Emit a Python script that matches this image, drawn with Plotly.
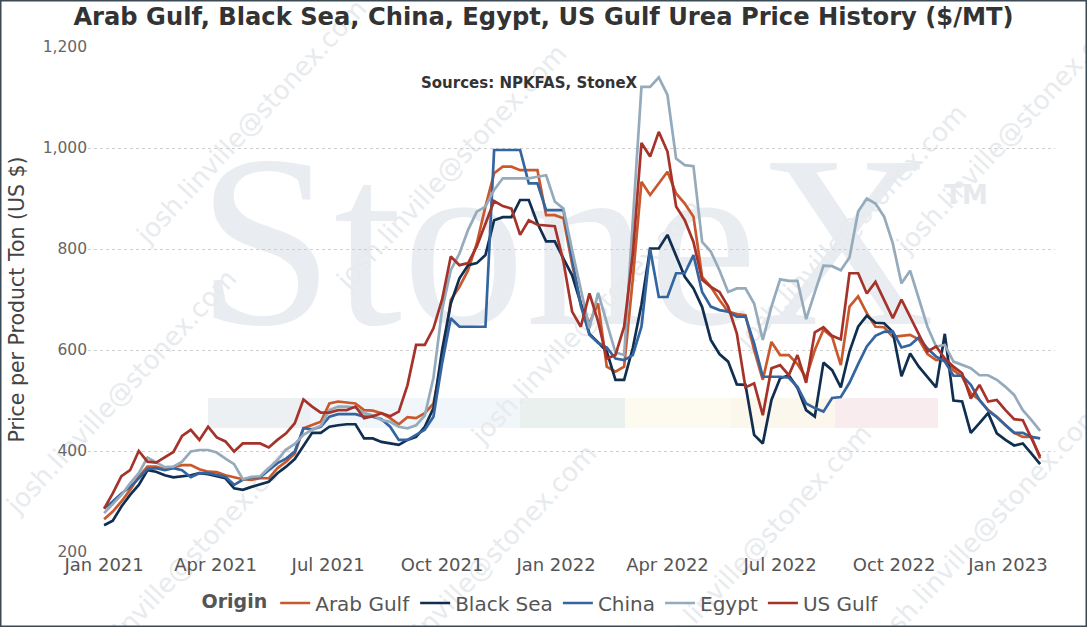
import pandas as pd
import plotly.graph_objects as go

# weekly prices, $/MT, first week of Jan 2021 -> end of Jan 2023
weeks = pd.date_range("2021-01-01", periods=109, freq="7D")

arab_gulf = [265, 280, 300, 323, 349, 369, 369, 364, 368, 372, 372, 364, 359, 358, 352, 348, 344, 343, 346, 346,
             366, 379, 395, 445, 451, 458, 494, 498, 496, 494, 481, 480, 475, 465, 453, 467, 465, 475, 494, 580,
             699, 725, 758, 811, 884, 950, 963, 963, 956, 956, 956, 867, 867, 861, 770, 692, 653, 692, 567, 557,
             567, 740, 933, 907, 930, 953, 910, 890, 864, 745, 725, 699, 676, 671, 669, 600, 541, 616, 590, 590,
             572, 545, 600, 640, 626, 570, 686, 706, 673, 646, 645, 626, 628, 630, 621, 592, 580, 582, 560, 547,
             514, 501, 481, 468, 451, 436, 428, 428, 385]
black_sea = [253, 262, 290, 313, 333, 362, 359, 352, 348, 350, 352, 356, 354, 350, 346, 326, 323, 329, 334, 339,
             356, 369, 384, 409, 436, 436, 448, 451, 453, 453, 425, 425, 418, 415, 412, 422, 428, 448, 485, 600,
             692, 742, 768, 772, 788, 857, 863, 863, 897, 897, 851, 815, 815, 781, 748, 692, 632, 615, 597, 541,
             541, 604, 690, 801, 801, 828, 785, 745, 722, 685, 620, 592, 577, 532, 531, 432, 415, 501, 544, 550,
             525, 481, 468, 575, 560, 526, 597, 646, 668, 654, 653, 636, 548, 593, 567, 547, 526, 632, 500, 498,
             436, 455, 475, 435, 422, 411, 415, 395, 374]
china = [286, 300, 316, 329, 346, 364, 366, 362, 366, 362, 348, 356, 356, 352, 349, 333, 343, 348, 348, 362,
         376, 385, 399, 445, 443, 448, 468, 473, 473, 473, 468, 468, 463, 448, 422, 422, 432, 442, 468, 574,
         663, 646, 646, 646, 646, 996, 996, 996, 996, 930, 930, 877, 877, 877, 780, 688, 630, 614, 605, 583,
         580, 590, 646, 800, 705, 705, 752, 752, 788, 715, 686, 679, 676, 666, 666, 613, 547, 547, 547, 545,
         527, 494, 485, 478, 505, 507, 535, 572, 607, 628, 636, 637, 605, 610, 625, 603, 587, 577, 549, 549,
         531, 501, 480, 467, 451, 436, 436, 428, 425]
egypt = [277, 296, 313, 336, 356, 387, 377, 368, 369, 379, 399, 402, 402, 397, 385, 374, 344, 349, 350, 366,
         382, 403, 414, 432, 442, 450, 481, 488, 488, 486, 475, 471, 461, 458, 448, 445, 451, 470, 545, 680,
         758, 791, 838, 874, 884, 917, 940, 940, 940, 940, 943, 946, 894, 880, 798, 719, 643, 713, 653, 595,
         590, 850, 1121, 1121, 1140, 1105, 979, 966, 964, 814, 795, 758, 715, 722, 722, 692, 620, 686, 740, 737,
         737, 661, 716, 767, 766, 758, 783, 874, 900, 890, 864, 811, 732, 757, 702, 646, 607, 610, 577, 570,
         564, 550, 550, 541, 527, 511, 481, 461, 440]
us_gulf = [286, 316, 350, 362, 400, 379, 377, 387, 398, 430, 442, 422, 448, 427, 419, 399, 415, 415, 415, 407,
           422, 435, 455, 502, 488, 476, 476, 481, 481, 488, 465, 469, 475, 469, 478, 530, 610, 610, 643, 700,
           785, 768, 772, 805, 850, 895, 885, 880, 828, 857, 848, 846, 845, 775, 676, 646, 712, 656, 583, 590,
           646, 790, 1010, 983, 1032, 993, 884, 857, 814, 739, 725, 715, 686, 633, 526, 534, 471, 564, 570, 550,
           590, 535, 635, 645, 628, 621, 752, 752, 712, 735, 699, 663, 700, 666, 633, 597, 607, 583, 567, 554,
           504, 531, 498, 501, 481, 463, 461, 425, 389]

origins = ["Arab Gulf", "Black Sea", "China", "Egypt", "US Gulf"]
series = [arab_gulf, black_sea, china, egypt, us_gulf]
colors = ["#c9582c", "#102f50", "#3465a0", "#95abbc", "#a5332a"]

y_ticks = [200, 400, 600, 800, 1000, 1200]
x_ticks = pd.date_range("2021-01-01", "2023-01-01", freq="QS")

FONT = "DejaVu Sans"
W, H = 1087, 627

fig = go.Figure()
for name, vals, col in zip(origins, series, colors):
    fig.add_trace(go.Scatter(x=weeks, y=vals, name=name, mode="lines",
                             line=dict(color=col, width=2.7)))

# plot area in pixels, used to place the watermark pieces
L, R, T, B = 88, 1055, 47, 552
def px(x): return (x - L) / (R - L)
def py(y): return (B - y) / (B - T)

def text_box(cx, cy, text, size, color, family=FONT, angle=0):
    return dict(type="rect", xref="paper", yref="paper", layer="below",
                x0=px(cx - 10), x1=px(cx + 10), y0=py(cy + 10), y1=py(cy - 10),
                line=dict(width=0), fillcolor="rgba(0,0,0,0)",
                label=dict(text=text, textangle=angle,
                           font=dict(family=family, size=size, color=color)))

shapes = []
band = [(208, 310, "#edf0f3"), (310, 520, "#f1f6fa"), (520, 625, "#eaf0ee"),
        (625, 730, "#fdfbef"), (730, 835, "#fbf7ec"), (835, 938, "#f9ecef")]
for x0, x1, c in band:
    shapes.append(dict(type="rect", xref="paper", yref="paper", layer="below",
                       x0=px(x0), x1=px(x1), y0=py(428), y1=py(398),
                       fillcolor=c, line=dict(width=0)))
shapes.append(text_box(566, 214, "StoneX", 246, "#e9edf1", family="Liberation Serif"))
shapes.append(text_box(966, 193, "<b>TM</b>", 26, "#e6eaee"))
for cx, cy in [(120, 390), (450, 165), (585, 320), (755, 545), (850, 225),
               (1010, 130), (985, 525), (180, 565), (480, 565), (250, 120)]:
    shapes.append(text_box(cx, cy, "josh.linville@stonex.com", 26, "#e8ebee", angle=-47))
# outer frame
shapes.append(dict(type="rect", xref="paper", yref="paper", layer="above",
                   x0=px(0.75), x1=px(W - 0.75), y0=py(H - 0.75), y1=py(0.75),
                   line=dict(color="#3b4a55", width=1.5)))

fig.update_layout(
    width=W, height=H,
    margin=dict(l=L, r=W - R, t=T, b=H - B, autoexpand=False),
    paper_bgcolor="white", plot_bgcolor="white",
    font=dict(family=FONT, color="#555555"),
    title=dict(text="<b>Arab Gulf, Black Sea, China, Egypt, US Gulf Urea Price History ($/MT)</b>",
               x=0.5, xanchor="center", y=1 - 17 / H, yanchor="middle",
               font=dict(family=FONT, size=24.2, color="#333333")),
    xaxis=dict(range=["2020-12-19", "2023-02-08"], tickvals=x_ticks, tickformat="%b %Y",
               showgrid=False, zeroline=False, showline=False, ticks="", automargin=False,
               tickfont=dict(size=18, color="#555555")),
    yaxis=dict(range=[200, 1200], tickvals=y_ticks, tickformat=",", showline=False, automargin=False,
               zeroline=False, showgrid=True, gridcolor="#cfcfcf", griddash="dot", gridwidth=1,
               tickfont=dict(size=15.5, color="#666666"), ticks="",
               title=dict(text="Price per Product Ton (US $)", font=dict(size=20.5, color="#444444"),
                          standoff=12)),
    legend=dict(orientation="h", x=0.469, xanchor="center", yref="container",
                y=1 - 603 / H, yanchor="middle",
                title=dict(text="<b>Origin</b>", font=dict(size=19, color="#555555")),
                font=dict(size=20, color="#555555"), itemwidth=30, bgcolor="rgba(0,0,0,0)"),
    annotations=[dict(text="<b>Sources: NPKFAS, StoneX</b>", xref="paper", yref="paper",
                      x=px(529), y=py(83), xanchor="center", yanchor="middle", showarrow=False,
                      font=dict(family=FONT, size=15, color="#333333"))],
    shapes=shapes,
    showlegend=True,
)

# page body has a default margin; drop it so the figure sits at the window corner
fig.write_html("out.html", config={"displayModeBar": False},
               post_script="document.body.style.margin='0px';")
